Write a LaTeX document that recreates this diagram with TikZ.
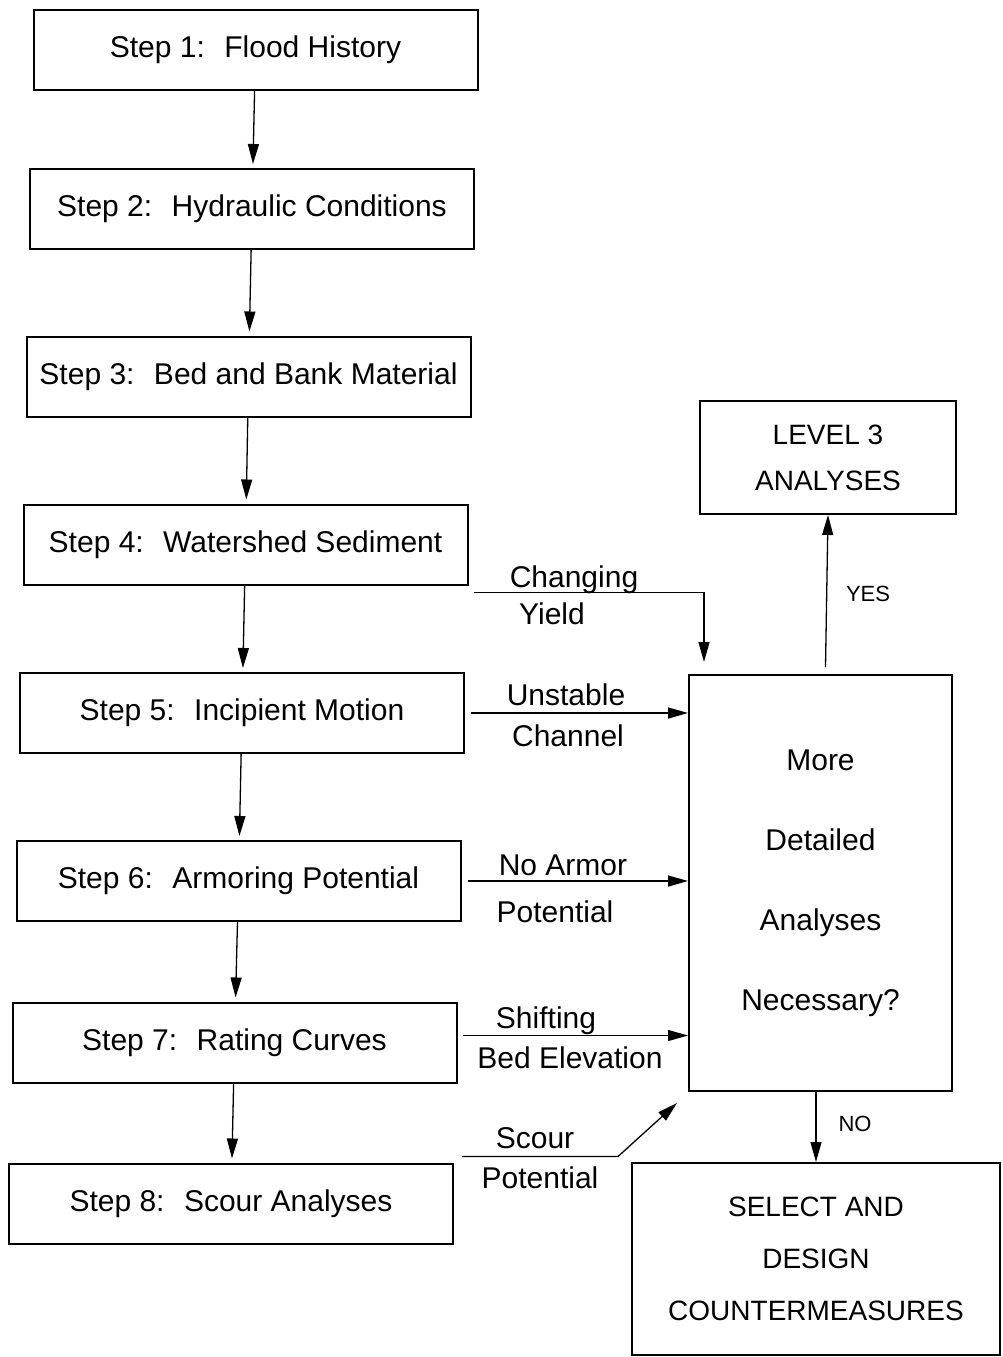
\documentclass[tikz,border=0pt]{standalone}
\usepackage{fontspec}
\setmainfont{Liberation Sans}
\usepackage{tikz}
\usetikzlibrary{arrows.meta, positioning, calc}

\begin{document}
\begin{tikzpicture}[x=1pt, y=-1pt,
  stepbox/.style={draw, line width=2pt, minimum width=444pt, minimum height=80pt, inner sep=0pt, font=\fontsize{30}{36}\selectfont},
  capbox/.style={draw, line width=2pt, align=center, inner sep=0pt},
  lbl/.style={anchor=base, inner sep=0pt, font=\fontsize{30}{36}\selectfont},
  yesno/.style={anchor=base, inner sep=0pt, font=\fontsize{22}{26}\selectfont},
  arr/.style={line width=1.3pt, -{Triangle[length=20pt, width=11pt]}}]
  \useasboundingbox (0,0) rectangle (1002,1357);

  % Steps
  \node[stepbox] (s1) at (255.5, 49.5) {Step 1:~ Flood History};
  \node[stepbox] (s2) at (252, 209) {Step 2:~ Hydraulic Conditions};
  \node[stepbox] (s3) at (248.5, 376.5) {Step 3:~ Bed and Bank Material};
  \node[stepbox] (s4) at (245.5, 544.5) {Step 4:~ Watershed Sediment};
  \node[stepbox] (s5) at (242, 713) {Step 5:~ Incipient Motion};
  \node[stepbox] (s6) at (238.5, 881) {Step 6:~ Armoring Potential};
  \node[stepbox] (s7) at (234.5, 1042.5) {Step 7:~ Rating Curves};
  \node[stepbox] (s8) at (231, 1203.5) {Step 8:~ Scour Analyses};

  \draw[arr, shorten >=4pt] (s1) -- (s2);
  \draw[arr, shorten >=4pt] (s2) -- (s3);
  \draw[arr, shorten >=4pt] (s3) -- (s4);
  \draw[arr, shorten >=4pt] (s4) -- (s5);
  \draw[arr, shorten >=4pt] (s5) -- (s6);
  \draw[arr, shorten >=4pt] (s6) -- (s7);
  \draw[arr, shorten >=4pt] (s7) -- (s8);

  % Decision and outcomes
  \node[capbox, minimum width=256pt, minimum height=113pt, font=\fontsize{28}{46}\selectfont] (lvl) at (828, 457.5) {LEVEL 3\\ANALYSES};
  \node[capbox, minimum width=263pt, minimum height=416pt, font=\fontsize{30}{80}\selectfont] (more) at (820.5, 883) {More\\Detailed\\Analyses\\Necessary?};
  \node[capbox, minimum width=368pt, minimum height=192pt, font=\fontsize{28}{52}\selectfont] (select) at (816, 1259) {SELECT AND\\DESIGN\\COUNTERMEASURES};

  % Reasons
  \coordinate (chg0) at ($(s4.south east)+(5,7)$);
  \draw[arr] (chg0) -| ($(more.north west)+(16,-12)$);
  \node[lbl] (chg) at (574, 587) {Changing};
  \node[lbl] (yld) at (552, 624) {Yield};

  \draw[arr, shorten <=6pt] (s5.east) -- (s5.east -| more.west);
  \node[lbl] (unst) at (566, 705) {Unstable};
  \node[lbl] (chan) at (568, 746) {Channel};

  \draw[arr, shorten <=6pt] (s6.east) -- (s6.east -| more.west);
  \node[lbl] (noarm) at (563, 875) {No Armor};
  \node[lbl] (pot1) at (555, 922) {Potential};

  \coordinate (sh0) at ($(s7.east)+(5,-7)$);
  \draw[arr] (sh0) -- (sh0 -| more.west);
  \node[lbl] (shift) at (546, 1028) {Shifting};
  \node[lbl] (bedel) at (570, 1068) {Bed Elevation};

  \coordinate (sc0) at ($(s8.north east)+(8,-6)$);
  \coordinate (sc1) at ($(s8.north east)+(164,-6)$);
  \draw[arr] (sc0) -- (sc1) -- ($(more.south west)+(-11,11)$);
  \node[lbl] (scour) at (535, 1148) {Scour};
  \node[lbl] (pot2) at (540, 1188) {Potential};

  % Yes / No
  \draw[arr] ($(more.north)+(5,-7)$) -- (lvl.south);
  \node[yesno] (yes) at (868, 601) {YES};
  \draw[arr] (more.south -| select.north) -- (select.north);
  \node[yesno] (no) at (855, 1131) {NO};
\end{tikzpicture}
\end{document}
